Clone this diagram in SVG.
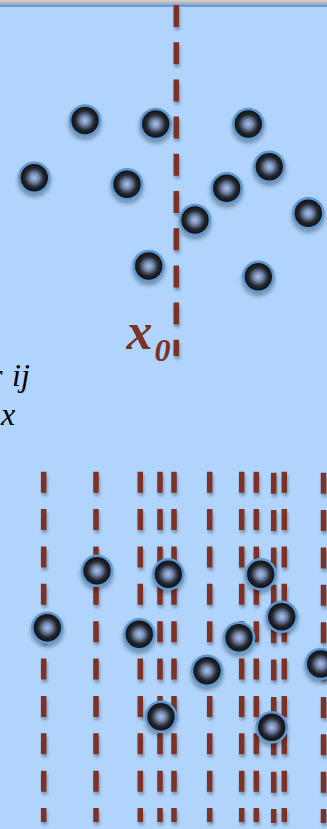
<svg xmlns="http://www.w3.org/2000/svg" width="327" height="829" viewBox="0 0 327 829">
  <defs>
    <linearGradient id="bar" x1="0" y1="0" x2="0" y2="1">
      <stop offset="0" stop-color="#d6d6d6"/>
      <stop offset="1" stop-color="#a4a4a4"/>
    </linearGradient>
    <radialGradient id="ball" cx="0.5" cy="0.5" r="0.5">
      <stop offset="0" stop-color="#a9c0ea"/>
      <stop offset="0.28" stop-color="#7a90b8"/>
      <stop offset="0.64" stop-color="#24272e"/>
      <stop offset="1" stop-color="#0b0b0c"/>
    </radialGradient>
    <filter id="ballShadow" x="-40%" y="-40%" width="180%" height="190%">
      <feGaussianBlur in="SourceAlpha" stdDeviation="2"/>
      <feOffset dx="0" dy="3" result="b"/>
      <feComponentTransfer><feFuncA type="linear" slope="0.35"/></feComponentTransfer>
      <feMerge><feMergeNode/><feMergeNode in="SourceGraphic"/></feMerge>
    </filter>
    <filter id="dashShadow" filterUnits="userSpaceOnUse" x="0" y="0" width="327" height="829">
      <feGaussianBlur in="SourceAlpha" stdDeviation="1.5"/>
      <feOffset dx="1" dy="3"/>
      <feComponentTransfer><feFuncA type="linear" slope="0.3"/></feComponentTransfer>
      <feMerge><feMergeNode/><feMergeNode in="SourceGraphic"/></feMerge>
    </filter>
    <symbol id="particle" overflow="visible">
      <circle cx="0" cy="0" r="15" fill="url(#ball)" stroke="#5f98d0" stroke-width="2.6"/>
    </symbol>
  </defs>
  <style>
    .cut { stroke: #7b3228; stroke-width: 5.5; fill: none; }
    .cut-top { stroke-dasharray: 22 15.2; }
    .cut-grid { stroke-dasharray: 21 16.37; }
    .sym { font-family: "Liberation Serif", "Times New Roman", serif; font-style: italic; fill: #000; font-size: 32px; }
    .x0 { font-family: "Liberation Serif", "Times New Roman", serif; font-style: italic; font-weight: bold; fill: #7b3228; }
  </style>

  <!-- background and window edge -->
  <rect x="0" y="0" width="327" height="829" fill="#b0d4fb"/>
  <rect x="0" y="0" width="327" height="4.5" fill="url(#bar)"/>
  <rect x="0" y="4.5" width="327" height="2.5" fill="#6a9dd8"/>

  <!-- cutting planes -->
  <g id="cut-lines" filter="url(#dashShadow)">
    <line id="cut-x0" class="cut cut-top" x1="176.3" y1="5" x2="176.3" y2="356"/>
    <line class="cut cut-grid" x1="43.7" y1="471.7" x2="43.7" y2="822"/>
    <line class="cut cut-grid" x1="96" y1="471.7" x2="96" y2="822"/>
    <line class="cut cut-grid" x1="140.3" y1="471.7" x2="140.3" y2="822"/>
    <line class="cut cut-grid" x1="160" y1="471.7" x2="160" y2="822"/>
    <line class="cut cut-grid" x1="174" y1="471.7" x2="174" y2="822"/>
    <line class="cut cut-grid" x1="209.7" y1="471.7" x2="209.7" y2="822"/>
    <line class="cut cut-grid" x1="241.7" y1="471.7" x2="241.7" y2="822"/>
    <line class="cut cut-grid" x1="256.3" y1="471.7" x2="256.3" y2="822"/>
    <line class="cut cut-grid" x1="273.7" y1="472.7" x2="273.7" y2="823"/>
    <line class="cut cut-grid" x1="284.3" y1="471.7" x2="284.3" y2="822"/>
    <line class="cut cut-grid" x1="323.5" y1="472.7" x2="323.5" y2="823"/>
  </g>

  <!-- particles around the single plane -->
  <g id="particles-upper" filter="url(#ballShadow)">
    <use id="p1" href="#particle" x="85" y="120.5"/>
    <use id="p2" href="#particle" x="155.7" y="124"/>
    <use id="p3" href="#particle" x="248.3" y="124"/>
    <use id="p4" href="#particle" x="34.3" y="177.7"/>
    <use id="p5" href="#particle" x="127" y="184.3"/>
    <use id="p6" href="#particle" x="269.3" y="166.7"/>
    <use id="p7" href="#particle" x="226.7" y="188.3"/>
    <use id="p8" href="#particle" x="308.3" y="213.3"/>
    <use id="p9" href="#particle" x="195" y="220"/>
    <use id="p10" href="#particle" x="148.7" y="266"/>
    <use id="p11" href="#particle" x="258.3" y="276.7"/>
  </g>

  <!-- particles among the grid of planes -->
  <g id="particles-lower" filter="url(#ballShadow)">
    <use id="q1" href="#particle" x="97" y="570.7"/>
    <use id="q2" href="#particle" x="168.3" y="574.3"/>
    <use id="q3" href="#particle" x="260.7" y="574.3"/>
    <use id="q4" href="#particle" x="47.3" y="627.7"/>
    <use id="q5" href="#particle" x="139.3" y="634.3"/>
    <use id="q6" href="#particle" x="239" y="637.7"/>
    <use id="q7" href="#particle" x="281.7" y="616.7"/>
    <use id="q8" href="#particle" x="320.7" y="664"/>
    <use id="q9" href="#particle" x="207" y="670.7"/>
    <use id="q10" href="#particle" x="161" y="716.7"/>
    <use id="q11" href="#particle" x="271.7" y="727.3"/>
  </g>

  <!-- labels -->
  <g id="label-x0">
    <text class="x0" x="126.5" y="349" font-size="52">x</text>
    <text class="x0" x="154.5" y="361" font-size="32">0</text>
  </g>
  <g id="label-left">
    <text class="sym" x="-10" y="386">r</text>
    <text class="sym" x="12" y="386">ij</text>
    <text class="sym" x="1" y="425">x</text>
  </g>
</svg>
